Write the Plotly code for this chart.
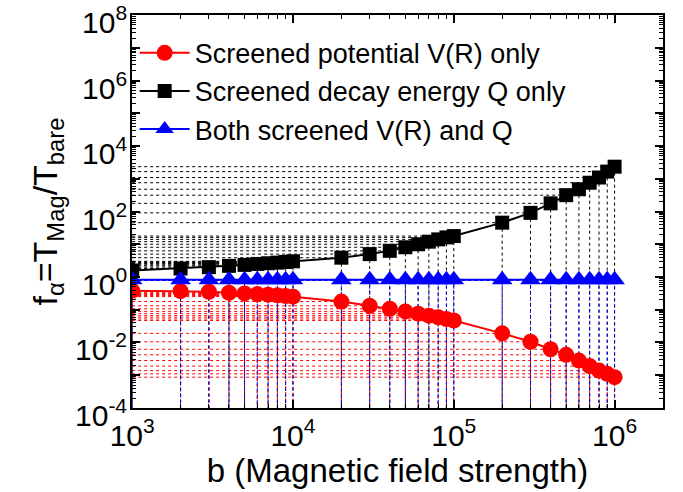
import math
import plotly.graph_objects as go

b_values = [1e3, 2e3, 3e3, 4e3, 5e3, 6e3, 7e3, 8e3, 9e3,
            1e4, 2e4, 3e4, 4e4, 5e4, 6e4, 7e4, 8e4, 9e4,
            1e5, 2e5, 3e5, 4e5, 5e5, 6e5, 7e5, 8e5, 9e5, 1e6]

f_screened_V = [0.38, 0.37, 0.355, 0.33, 0.316, 0.30, 0.288, 0.275, 0.263,
                0.251, 0.178, 0.132, 0.107, 0.089, 0.076, 0.066, 0.059, 0.052,
                0.047, 0.019, 0.0105, 0.0062, 0.0042, 0.0028, 0.0019, 0.00138, 0.0011, 0.00087]

f_screened_Q = [1.58, 1.82, 2.0, 2.19, 2.34, 2.51, 2.63, 2.75, 2.88,
                3.02, 3.89, 5.0, 6.3, 8.1, 10.0, 12.0, 14.1, 16.2,
                17.8, 45.7, 91.0, 178.0, 316.0, 479.0, 759.0, 1096.0, 1660.0, 2344.0]

f_both = [0.82] * 28

series_names = ["Screened potential V(R) only",
                "Screened decay energy Q only",
                "Both screened V(R) and Q"]

y_label_exponents = [-4, -2, 0, 2, 4, 6, 8]

X_MIN, X_MAX = 1e3, 2e6
Y_MIN, Y_MAX = 1e-4, 1e8

FONT = "Liberation Sans, Arial, sans-serif"

fig = go.Figure()


def drop_lines(xs, ys, color):
    hx, hy, vx, vy = [], [], [], []
    for x, y in zip(xs, ys):
        hx += [X_MIN, x, None]
        hy += [y, y, None]
        vx += [x, x, None]
        vy += [y, Y_MIN, None]
    for lx, ly in ((hx, hy), (vx, vy)):
        fig.add_trace(go.Scatter(x=lx, y=ly, mode="lines", showlegend=False,
                                 hoverinfo="skip",
                                 line=dict(color=color, width=1, dash="dot")))


drop_lines(b_values, f_screened_Q, "black")
drop_lines(b_values, f_screened_V, "red")
drop_lines(b_values, f_both, "blue")

fig.add_trace(go.Scatter(x=b_values, y=f_screened_V, mode="lines+markers",
                         name=series_names[0],
                         line=dict(color="red", width=2),
                         marker=dict(symbol="circle", size=16, color="red")))
fig.add_trace(go.Scatter(x=b_values, y=f_screened_Q, mode="lines+markers",
                         name=series_names[1],
                         line=dict(color="black", width=2),
                         marker=dict(symbol="square", size=14, color="black")))
fig.add_trace(go.Scatter(x=b_values, y=f_both, mode="lines+markers",
                         name=series_names[2],
                         line=dict(color="blue", width=2),
                         marker=dict(symbol="triangle-up", size=18, color="blue")))

x_major = [10 ** e for e in range(3, 7)]
x_minor = [m * 10 ** e for e in range(3, 7) for m in range(2, 10) if m * 10 ** e <= X_MAX]
y_major = [10.0 ** e for e in range(-4, 9)]
y_minor = [m * 10.0 ** e for e in range(-4, 8) for m in range(2, 10)]

fig.update_xaxes(type="log", range=[math.log10(X_MIN) - 0.001, math.log10(X_MAX)],
                 tickmode="array", tickvals=x_major,
                 ticktext=["10<sup>%d</sup>" % e for e in range(3, 7)],
                 ticks="inside", ticklen=8, tickwidth=1.5, tickcolor="black",
                 minor=dict(tickmode="array", tickvals=x_minor, ticks="inside",
                            ticklen=4, tickwidth=1, tickcolor="black", showgrid=False),
                 showline=True, linecolor="black", linewidth=2, mirror="ticks",
                 showgrid=False, zeroline=False, ticklabeloverflow="allow",
                 automargin=False,
                 tickfont=dict(family=FONT, size=30, color="black"),
                 title=dict(text="b (Magnetic field strength)",
                            font=dict(family=FONT, size=33, color="black"),
                            standoff=2))
fig.update_yaxes(type="log", range=[math.log10(Y_MIN) - 0.002, math.log10(Y_MAX) + 0.004],
                 tickmode="array", tickvals=y_major, showticklabels=False,
                 ticks="inside", ticklen=8, tickwidth=1.5, tickcolor="black",
                 minor=dict(tickmode="array", tickvals=y_minor, ticks="inside",
                            ticklen=4, tickwidth=1, tickcolor="black", showgrid=False),
                 showline=True, linecolor="black", linewidth=2, mirror="ticks",
                 showgrid=False, zeroline=False, automargin=False,
                 title=dict(text="f<sub>α</sub>=T<sub>Mag</sub>/T<sub>bare</sub>",
                            font=dict(family=FONT, size=34, color="black"),
                            standoff=62))

for e in y_label_exponents:
    fig.add_annotation(x=0, xref="paper", y=e, yref="y",
                       text="10<sup>%d</sup>" % e, showarrow=False,
                       xanchor="right", yanchor="middle", xshift=-3, yshift=-5,
                       font=dict(family=FONT, size=30, color="black"))

fig.update_layout(width=683, height=492,
                  margin=dict(l=132, r=20, t=15, b=84),
                  paper_bgcolor="white", plot_bgcolor="white",
                  font=dict(family=FONT, color="black"),
                  legend=dict(x=0.005, y=0.965, xanchor="left", yanchor="top",
                              bgcolor="rgba(0,0,0,0)", borderwidth=0,
                              font=dict(family=FONT, size=27, color="black"),
                              tracegroupgap=0, itemwidth=50))

fig.write_html("out.html")
